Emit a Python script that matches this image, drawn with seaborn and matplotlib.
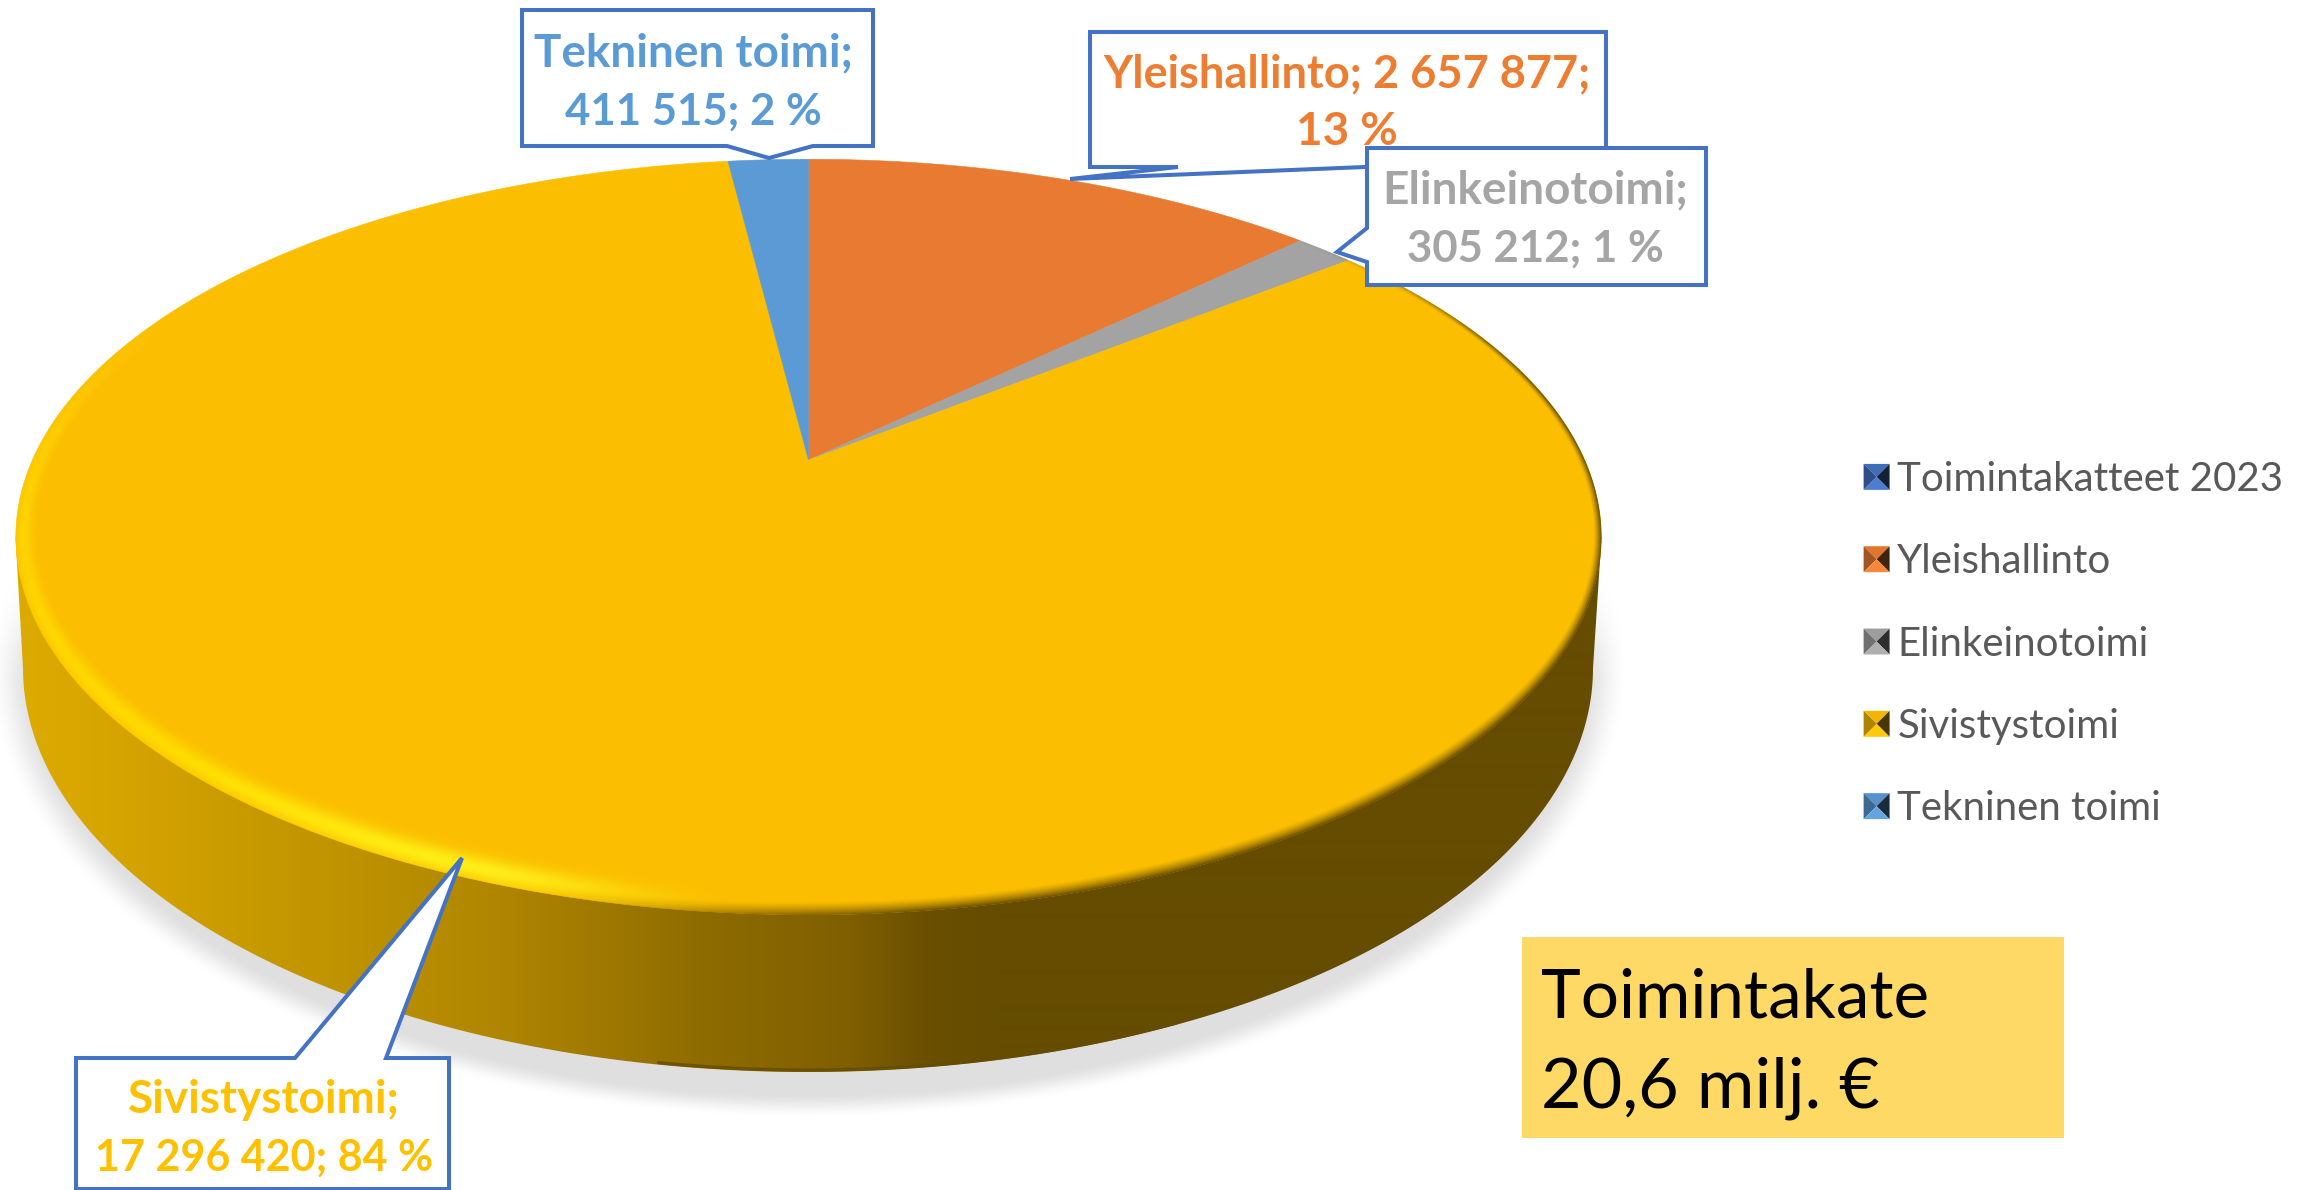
import numpy as np
import pandas as pd
import seaborn as sns
import matplotlib
matplotlib.use("Agg")
import matplotlib.pyplot as plt
from matplotlib.colors import to_rgb
from matplotlib.legend_handler import HandlerBase
from matplotlib.patches import Patch, Polygon
from matplotlib.path import Path
from matplotlib.transforms import Affine2D, Transform

# Datos
categories = ["Yleishallinto", "Elinkeinotoimi", "Sivistystoimi", "Tekninen toimi"]
values = [2657877, 305212, 17296420, 411515]
percents = [13, 1, 84, 2]
legend_labels = ["Toimintakatteet 2023", "Yleishallinto", "Elinkeinotoimi", "Sivistystoimi", "Tekninen toimi"]
legend_colors = ["#4472C4", "#ED7D31", "#A5A5A5", "#FFC000", "#5B9BD5"]
slice_colors = ["#E97A31", "#A3A3A3", "#FBBE00", "#5B9AD5"]
label_colors = ["#ED7D31", "#A5A5A5", "#FFC000", "#5B9BD5"]
total_note = ["Toimintakate", "20,6 milj. €"]

W, H = 2301, 1190
LINE = "#4472C4"

# Geometria del disco en pixeles (perspectiva)
APEX = (808.5, 460.0)
TOP_C, TOP_A, TOP_B = (808.5, 537.0), 793.0, 378.0
LOW_C, LOW_A, LOW_B = (808.0, 668.0), 785.0, 404.0
K = 0.2037
PA, PB = 776.0, 362.0


class Perspective(Transform):
    # pasa el circulo unidad de ax.pie al plano inclinado
    input_dims = 2
    output_dims = 2

    def transform_non_affine(self, xy):
        xy = np.asarray(xy, dtype=float)
        d = 1 + K * xy[:, 1]
        return np.column_stack([APEX[0] + PA * xy[:, 0] / d, APEX[1] - PB * xy[:, 1] / d])

    def transform_path_non_affine(self, path):
        # aplanar las curvas antes, si no el arco se desvia de la elipse
        poly = path.to_polygons(Affine2D().scale(2000), closed_only=True)[0] / 2000
        return Path(self.transform_non_affine(poly), closed=True)


class BevelHandler(HandlerBase):
    # cuadradito con biselado de cuatro triangulos
    def create_artists(self, legend, orig, xd, yd, width, height, fontsize, trans):
        base = np.array(to_rgb(orig.get_facecolor()))
        s = 18.7
        x0, y0 = width - s - xd, (height - s) / 2 - yd
        c = (x0 + s / 2, y0 + s / 2)
        tl, tr, bl, br = (x0, y0 + s), (x0 + s, y0 + s), (x0, y0), (x0 + s, y0)
        parts = [
            ([tl, tr, c], base * 0.95),
            ([tl, bl, c], base * 0.68),
            ([tr, br, c], base * 0.28),
            ([bl, br, c], np.minimum(base * 1.0 + 0.04, 1)),
        ]
        return [Polygon(p, closed=True, facecolor=col, edgecolor="none", transform=trans) for p, col in parts]


def smooth(x, lo, hi):
    t = np.clip((x - lo) / (hi - lo), 0, 1)
    return t * t * (3 - 2 * t)


def side_rgb(x):
    # degradado horizontal de la pared lateral
    stops = [0, 110, 300, 500, 700, 850, 930, 1000, 2301]
    cols = np.array([to_rgb(c) for c in ["#DDAC00", "#D7A500", "#C39600", "#B08600", "#8F6C00", "#7F5F00", "#6A4F00", "#654C00", "#654C00"]])
    return np.stack([np.interp(x, stops, cols[:, i]) for i in range(3)], axis=-1)


sns.set_theme(style="white")
plt.rcParams["font.family"] = ["Lato", "DejaVu Sans"]

df = pd.DataFrame({"categoria": categories, "valor": values, "pct": percents})
palette = sns.color_palette(slice_colors)

fig = plt.figure(figsize=(W / 100, H / 100), dpi=100, facecolor="white")
ax = fig.add_axes([0, 0, 1, 1])

wedges, _ = ax.pie(df["valor"], colors=palette, startangle=90, counterclock=False, radius=1, center=(0, 0))
ax.set_aspect("auto")
ax.set_xlim(0, W)
ax.set_ylim(H, 0)
ax.axis("off")
persp = Perspective()
for w, col in zip(wedges, palette):
    w.set_transform(persp + ax.transData)
    w.set_edgecolor(col)
    w.set_linewidth(0.4)
    w.set_zorder(4)

X, Y = np.meshgrid(np.arange(W) + 0.5, np.arange(H) + 0.5)
extent = (0, W, H, 0)

# sombra
e_sh = np.hypot((X - LOW_C[0]) / (LOW_A + 34), (Y - LOW_C[1]) / (LOW_B + 46))
sh_alpha = (1 - smooth(e_sh, 0.945, 1.0)) * smooth(Y, 560, 690)
sh = np.zeros((H, W, 4))
sh[..., :3] = 0.878
sh[..., 3] = sh_alpha
ax.imshow(sh, extent=extent, aspect="auto", interpolation="nearest", zorder=1)

# pared lateral
phi = np.linspace(0, np.pi, 400)
low_pts = np.column_stack([LOW_C[0] + LOW_A * np.cos(phi), LOW_C[1] + LOW_B * np.sin(phi)])
side_pts = np.vstack([[[TOP_C[0] + TOP_A, TOP_C[1]]], low_pts, [[TOP_C[0] - TOP_A, TOP_C[1]]]])
clip = Polygon(side_pts, closed=True, transform=ax.transData, facecolor="none", edgecolor="none")
ax.add_patch(clip)
grad = side_rgb(np.arange(W) + 0.5)[np.newaxis, :, :]
im = ax.imshow(grad, extent=extent, aspect="auto", interpolation="bilinear", zorder=2)
im.set_clip_path(clip)

# borde oscuro inferior
phi = np.radians(np.linspace(62, 101, 120))
ax.plot(LOW_C[0] + (LOW_A - 1) * np.cos(phi), LOW_C[1] + (LOW_B - 2) * np.sin(phi), color="#654C00", lw=2.4, alpha=0.8, zorder=3)

# bisel encima de los sectores
dx, dy = X - TOP_C[0], Y - TOP_C[1]
e = np.hypot(dx / TOP_A, dy / TOP_B)
g = np.hypot(dx / TOP_A**2, dy / TOP_B**2) / np.maximum(e, 1e-6)
dist = (1 - e) / np.maximum(g, 1e-6)
theta = np.degrees(np.arctan2(dy / TOP_B, dx / TOP_A))
theta = np.where(theta < -90, theta + 360, theta)

rim = np.zeros((H, W, 4))
inside = smooth(dist, -0.7, 0.7)

# zona clara: abajo a la izquierda
hi_strength = smooth(theta, 94, 118) * (1 - smooth(theta, 188, 222))
hi_cols = np.array([to_rgb(c) for c in ["#FFF21C", "#FFEA10", "#FFDC00", "#FFD200", "#FFC800"]])
hi_stops = [112, 125, 145, 185, 225]
hi_rgb = np.stack([np.interp(theta, hi_stops, hi_cols[:, i]) for i in range(3)], axis=-1)
hi_w = np.interp(theta, [100, 130, 180, 225], [28, 30, 20, 12])
bump = np.exp(-(((dist / hi_w) - 0.42) / 0.42) ** 2) * hi_strength

# zona oscura: abajo a la derecha
dk_strength = smooth(theta, -55, -25) * (1 - smooth(theta, 88, 112))
dk_w = np.interp(theta, [-60, -10, 30, 90, 112], [3, 7, 12, 14, 10])
dk = np.clip(1 - dist / dk_w, 0, 1) ** 1.4 * dk_strength
dk_rgb = side_rgb(X)

a_total = 1 - (1 - bump) * (1 - dk)
mix = dk / np.maximum(bump + dk, 1e-6)
rim[..., :3] = hi_rgb * (1 - mix[..., None]) + dk_rgb * mix[..., None]
rim[..., 3] = a_total * inside
ax.imshow(rim, extent=extent, aspect="auto", interpolation="nearest", zorder=5)

# globos de las etiquetas: (poligono, centro x, lineas base y, tamanos)
callouts = {
    "Yleishallinto": ([(1090, 32), (1606, 32), (1606, 167), (1365, 167), (1070, 179), (1178, 167), (1090, 167)], 1347, [87, 145], ["{c}; {v};", "{p} %"], [32.5, 33]),
    "Elinkeinotoimi": ([(1367, 148), (1706, 148), (1706, 285), (1367, 285), (1367, 262), (1337, 252), (1367, 228)], 1535, [203, 262], ["{c};", "{v}; {p} %"], [33, 31.5]),
    "Sivistystoimi": ([(76, 1058), (295, 1058), (462, 858), (386, 1058), (449, 1058), (449, 1189), (76, 1189)], 264, [1113, 1171], ["{c};", "{v}; {p} %"], [33, 31]),
    "Tekninen toimi": ([(522, 10), (873, 10), (873, 146), (813, 146), (769, 158), (727, 146), (522, 146)], 693, [66, 125], ["{c};", "{v}; {p} %"], [33, 31.5]),
}
for z, (_, row) in zip([7, 9, 7, 7], df.iterrows()):
    pts, cx, ys, fmt, sizes = callouts[row["categoria"]]
    ax.add_patch(Polygon(pts, closed=True, facecolor="white", edgecolor=LINE, lw=2.9, joinstyle="miter", zorder=z))
    col = label_colors[categories.index(row["categoria"])]
    num = f"{row['valor']:,}".replace(",", " ")
    for y, f, fs in zip(ys, fmt, sizes):
        ax.text(cx, y, f.format(c=row["categoria"], v=num, p=row["pct"]), color=col, fontsize=fs, fontweight="bold", ha="center", va="baseline", zorder=z + 1)

# caja del total
ax.add_patch(Polygon([(1522, 937), (2064, 937), (2064, 1138), (1522, 1138)], closed=True, facecolor="#FFD966", edgecolor="none", zorder=7))
for y, t, fs in zip([1017, 1107], total_note, [48.5, 50.5]):
    ax.text(1541, y, t, color="black", fontsize=fs, ha="left", va="baseline", zorder=8)

# leyenda
handles = [Patch(facecolor=c, label=l) for c, l in zip(legend_colors, legend_labels)]
ax.legend(
    handles=handles,
    handler_map={Patch: BevelHandler()},
    loc="upper left",
    bbox_to_anchor=(1863 / W, 1 - 461 / H),
    frameon=False,
    fontsize=29,
    labelcolor="#595959",
    labelspacing=1.125,
    handlelength=0.66,
    handleheight=0.7,
    handletextpad=0.19,
    borderpad=0,
    borderaxespad=0,
).set_zorder(10)

fig.savefig("out.png", dpi=100)
